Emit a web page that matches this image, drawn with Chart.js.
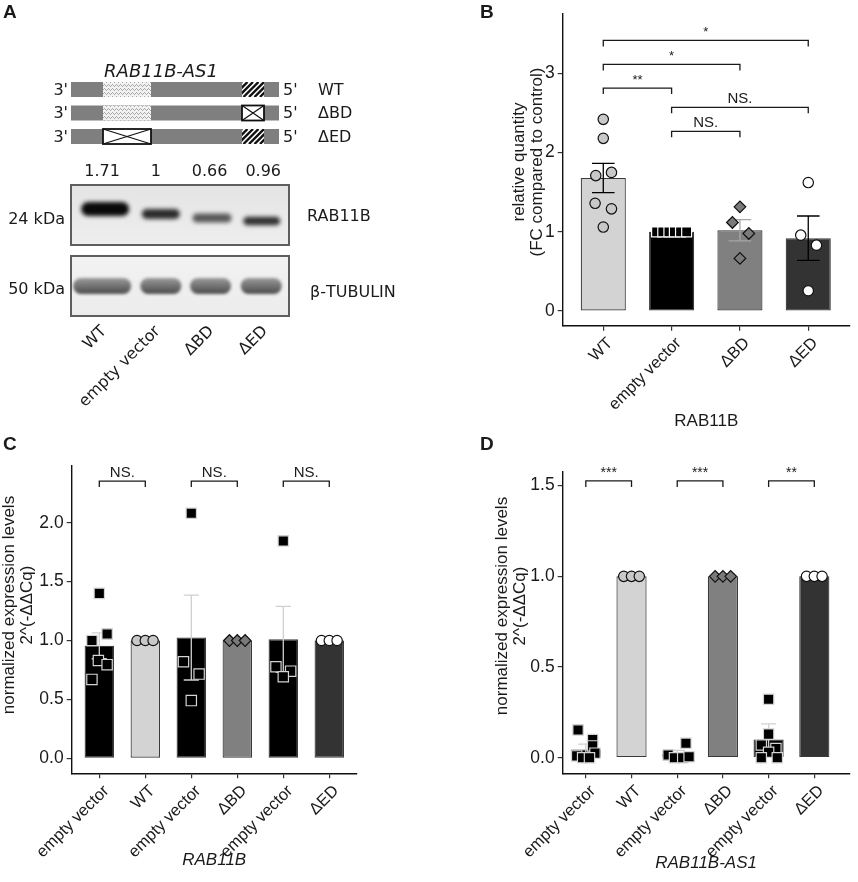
<!DOCTYPE html>
<html lang="en">
<head>
<meta charset="utf-8">
<title>RAB11B / RAB11B-AS1</title>
<script src="https://cdn.jsdelivr.net/npm/chart.js@4.4.1/dist/chart.umd.min.js"></script>
<style>
  html, body { margin: 0; padding: 0; background: #fff; }
  #figure { position: relative; width: 858px; height: 882px; overflow: hidden; }
  #figure canvas { position: absolute; }
</style>
</head>
<body>
<div id="figure">
  <canvas id="panelA" width="440" height="410" style="left:0;top:0"></canvas>
  <canvas id="panelB" width="418" height="440" style="left:440px;top:0"></canvas>
  <canvas id="panelC" width="430" height="472" style="left:0;top:410px"></canvas>
  <canvas id="panelD" width="428" height="450" style="left:430px;top:432px"></canvas>
</div>
<script>
// ===============================
// Data
// ===============================

// A: constructs and western blot
const lanesA = ['WT', 'empty vector', 'ΔBD', 'ΔED'];
const bandQuantA = [1.71, 1, 0.66, 0.96];
const constructsA = ['WT', 'ΔBD', 'ΔED'];
const deletedA = ['', 'BD', 'ED'];

// B: RAB11B protein, relative quantity
const categoriesB = ['WT', 'empty vector', 'ΔBD', 'ΔED'];
const meansB = [1.68, 1.0, 1.02, 0.92];
const semB = [0.185, 0, 0.135, 0.28];
const pointsB = [
  [2.42, 2.18, 1.71, 1.75, 1.36, 1.29, 1.06],
  [1, 1, 1, 1, 1, 1],
  [1.315, 1.118, 0.979, 0.664],
  [1.622, 0.958, 0.832, 0.256]
];
const jitterB = [
  [0, 0, -0.11, 0.12, -0.12, 0.12, 0],
  [-0.22, -0.13, -0.04, 0.04, 0.13, 0.22],
  [0, -0.11, 0.13, 0],
  [0, -0.11, 0.12, 0]
];
const yTicksB = [0, 1, 2, 3];
const bracketFromB = [0, 0, 0, 1, 1];
const bracketToB = [3, 2, 1, 3, 2];
const bracketYB = [3.416, 3.113, 2.815, 2.571, 2.269];
const bracketLabelB = ['*', '*', '**', 'NS.', 'NS.'];

// C: RAB11B mRNA
const categoriesC = ['empty vector', 'WT', 'empty vector', 'ΔBD', 'empty vector', 'ΔED'];
const meansC = [0.955, 1.0, 1.025, 1.0, 1.01, 1.0];
const semC = [0.11, 0, 0.36, 0, 0.28, 0];
const pointsC = [
  [1.40, 1.055, 1.00, 0.83, 0.795, 0.67],
  [1, 1, 1],
  [2.08, 0.82, 0.715, 0.49],
  [1, 1, 1],
  [1.845, 0.777, 0.74, 0.692],
  [1, 1, 1]
];
const jitterC = [
  [0, 0.17, -0.16, -0.02, 0.17, -0.16],
  [-0.18, 0, 0.17],
  [0, -0.17, 0.17, 0],
  [-0.17, 0, 0.17],
  [0, -0.16, 0.16, 0],
  [-0.17, 0, 0.17]
];
const yTicksC = [0, 0.5, 1, 1.5, 2];
const bracketFromC = [0, 2, 4];
const bracketToC = [1, 3, 5];
const bracketYC = [2.353, 2.353, 2.353];
const bracketLabelC = ['NS.', 'NS.', 'NS.'];

// D: RAB11B-AS1 RNA
const categoriesD = ['empty vector', 'WT', 'empty vector', 'ΔBD', 'empty vector', 'ΔED'];
const meansD = [0.045, 1.0, 0.02, 1.0, 0.10, 1.0];
const semD = [0.03, 0, 0.02, 0, 0.086, 0];
const pointsD = [
  [0.153, 0.10, 0.065, 0.025, 0.01, 0, 0],
  [1, 1, 1],
  [0.08, 0.015, 0, 0, 0.005],
  [1, 1, 1],
  [0.322, 0.13, 0.07, 0.05, 0.03, 0, 0],
  [1, 1, 1]
];
const jitterD = [
  [-0.17, 0.15, 0.15, 0.2, -0.2, -0.07, 0.08],
  [-0.17, 0, 0.17],
  [0.19, -0.2, -0.06, 0.12, 0.26],
  [-0.17, 0, 0.17],
  [0, 0, -0.16, 0.16, 0, -0.16, 0.19],
  [-0.17, 0, 0.17]
];
const yTicksD = [0, 0.5, 1, 1.5];
const bracketFromD = [0, 2, 4];
const bracketToD = [1, 3, 5];
const bracketYD = [1.526, 1.526, 1.526];
const bracketLabelD = ['***', '***', '**'];

// ===============================
// Styles
// ===============================
const SANS = "'Liberation Sans', Arial, sans-serif";
const DEJAVU = "'DejaVu Sans', Verdana, sans-serif";
const INK = '#1a1a1a';
Chart.defaults.font.family = SANS;
Chart.defaults.color = INK;

const AXIS_BORDER = { display: true, color: '#111', width: 1.4 };
const TICK_GRID = { display: true, drawOnChartArea: false, drawTicks: true, tickLength: 5, color: '#333', lineWidth: 1.2, offset: false };

const MARK = {
  wt:  { shape: 'circle',  r: 5.2, fill: '#c8c8c8', line: '#111' },
  bd:  { shape: 'rectRot', r: 5.8, fill: '#7a7a7a', line: '#111' },
  ed:  { shape: 'circle',  r: 5.2, fill: '#ffffff', line: '#111' },
  evB: { shape: 'rect',    r: 7,   fill: '#000000', line: '#ffffff' },
  ev:  { shape: 'rect',    r: 7.3, fill: '#000000', line: '#d4d4d4' }
};

// ===============================
// Panel A helpers (schematic + blot)
// ===============================
function dotPattern(ctx) {
  const c = document.createElement('canvas');
  c.width = c.height = 4;
  const g = c.getContext('2d');
  g.fillStyle = '#f2f2f2';
  g.fillRect(0, 0, 4, 4);
  g.fillStyle = '#a9a9a9';
  g.fillRect(0, 0, 1, 1); g.fillRect(1, 1, 1, 1);
  g.fillRect(2, 2, 1, 1); g.fillRect(3, 1, 1, 1);
  return ctx.createPattern(c, 'repeat');
}

function drawDomain(ctx, x, y, w, h, kind) {
  ctx.save();
  if (kind === 'dots') {
    ctx.fillStyle = dotPattern(ctx);
    ctx.fillRect(x, y, w, h);
  } else if (kind === 'hatch') {
    ctx.beginPath(); ctx.rect(x, y, w, h); ctx.clip();
    ctx.fillStyle = '#fff';
    ctx.fillRect(x, y, w, h);
    ctx.strokeStyle = '#111';
    ctx.lineWidth = 2.4;
    ctx.beginPath();
    for (let s = -h; s < w + h; s += 5.5) {
      ctx.moveTo(x + s, y + h);
      ctx.lineTo(x + s + h, y);
    }
    ctx.stroke();
  } else {
    ctx.fillStyle = '#fff';
    ctx.fillRect(x, y, w, h);
    ctx.strokeStyle = '#111';
    ctx.lineWidth = 1.2;
    ctx.beginPath();
    ctx.moveTo(x, y); ctx.lineTo(x + w, y + h);
    ctx.moveTo(x + w, y); ctx.lineTo(x, y + h);
    ctx.stroke();
    ctx.lineWidth = 1.8;
    ctx.strokeRect(x, y, w, h);
  }
  ctx.restore();
}

function drawBand(ctx, cx, cy, w, h, fill, blur) {
  ctx.save();
  ctx.filter = `blur(${blur}px)`;
  ctx.fillStyle = fill;
  ctx.beginPath();
  if (ctx.roundRect) ctx.roundRect(cx - w / 2, cy - h / 2, w, h, h / 2);
  else ctx.ellipse(cx, cy, w / 2, h / 2, 0, 0, 2 * Math.PI);
  ctx.fill();
  ctx.restore();
}

const blotPlugin = {
  id: 'blotA',
  afterDraw(chart) {
    const { ctx, chartArea: area, scales: { x } } = chart;
    const laneX = lanesA.map((_, i) => x.getPixelForValue(i));
    ctx.save();

    ctx.fillStyle = INK;
    ctx.font = `bold 19px ${SANS}`;
    ctx.textAlign = 'left';
    ctx.textBaseline = 'alphabetic';
    ctx.fillText('A', 3, 18);

    // transcript constructs
    ctx.font = `italic 18px ${DEJAVU}`;
    ctx.textAlign = 'center';
    ctx.fillText('RAB11B-AS1', 161, 77);
    const barL = area.left, barR = 279, rowH = 15;
    constructsA.forEach((name, r) => {
      const top = 82 + r * 23.5;
      const mid = top + rowH / 2;
      ctx.fillStyle = '#7f7f7f';
      ctx.fillRect(barL, top, barR - barL, rowH);
      drawDomain(ctx, 103, top, 48, rowH, deletedA[r] === 'ED' ? 'cross' : 'dots');
      drawDomain(ctx, 242, top, 22, rowH, deletedA[r] === 'BD' ? 'cross' : 'hatch');
      ctx.fillStyle = INK;
      ctx.font = `16px ${DEJAVU}`;
      ctx.textBaseline = 'middle';
      ctx.textAlign = 'right';
      ctx.fillText("3'", barL - 3, mid + 1);
      ctx.textAlign = 'left';
      ctx.fillText("5'", barR + 4, mid + 1);
      ctx.fillText(name, 318, mid + 1);
    });

    // densitometry values above the lanes
    ctx.textAlign = 'center';
    bandQuantA.forEach((q, i) => ctx.fillText(String(q), laneX[i], 172));

    // blots
    const w = area.right - area.left;
    const top1 = area.top, h1 = 60;
    const top2 = area.bottom - 60, h2 = 60;

    let g = ctx.createLinearGradient(0, top1, 0, top1 + h1);
    g.addColorStop(0, '#e4e4e4'); g.addColorStop(1, '#eeeeee');
    ctx.fillStyle = g;
    ctx.fillRect(area.left, top1, w, h1);
    ctx.save();
    ctx.beginPath(); ctx.rect(area.left, top1, w, h1); ctx.clip();
    const rabShift = [3, 5, 2.5, -1.5], rabDrop = [24, 29, 33, 36];
    const rabW = [48, 38, 39, 37], rabH = [14, 10, 9, 8.5];
    bandQuantA.forEach((q, i) => {
      const a = Math.min(1, 0.25 + 0.6 * q);
      drawBand(ctx, laneX[i] + rabShift[i], top1 + rabDrop[i], rabW[i], rabH[i], `rgba(10,10,10,${a})`, 2);
    });
    ctx.restore();

    g = ctx.createLinearGradient(0, top2, 0, top2 + h2);
    g.addColorStop(0, '#f2f2f2'); g.addColorStop(1, '#ececec');
    ctx.fillStyle = g;
    ctx.fillRect(area.left, top2, w, h2);
    ctx.save();
    ctx.beginPath(); ctx.rect(area.left, top2, w, h2); ctx.clip();
    const tubShift = [0, 5, 1, -2], tubW = [58, 41, 41, 41];
    laneX.forEach((lx, i) => {
      const cy = top2 + 30;
      const tg = ctx.createLinearGradient(0, cy - 8, 0, cy + 8);
      tg.addColorStop(0, '#9a9a9a'); tg.addColorStop(0.6, '#6a6a6a'); tg.addColorStop(1, '#4a4a4a');
      drawBand(ctx, lx + tubShift[i], cy, tubW[i], 16, tg, 1.6);
    });
    ctx.restore();

    ctx.strokeStyle = '#5e5e5e';
    ctx.lineWidth = 2;
    ctx.strokeRect(area.left, top1, w, h1);
    ctx.strokeRect(area.left, top2, w, h2);

    ctx.fillStyle = INK;
    ctx.font = `16px ${DEJAVU}`;
    ctx.textAlign = 'right';
    ctx.fillText('24 kDa', 65, 220);
    ctx.fillText('50 kDa', 65, 290);
    ctx.textAlign = 'left';
    ctx.fillText('RAB11B', 307, 217);
    ctx.fillText('β-TUBULIN', 310, 293);
    ctx.restore();
  }
};

new Chart(document.getElementById('panelA'), {
  type: 'bar',
  data: { datasets: [] },
  options: {
    responsive: false,
    animation: false,
    events: [],
    layout: { padding: { left: 71, right: 151, top: 185, bottom: 0 } },
    plugins: { legend: { display: false }, tooltip: { enabled: false } },
    scales: {
      x: {
        type: 'linear', min: -0.58, max: 3.48, offset: false,
        afterBuildTicks: s => { s.ticks = lanesA.map((_, i) => ({ value: i })); },
        afterFit: s => { s.height = 94; },
        border: { display: false },
        grid: { display: false, drawTicks: false, offset: false },
        ticks: {
          autoSkip: false, minRotation: 45, maxRotation: 45, padding: 6, labelOffset: 2, color: INK,
          font: { family: DEJAVU, size: 16 },
          callback: v => lanesA[Math.round(v)]
        }
      },
      y: { display: false, min: 0, max: 1 }
    }
  },
  plugins: [blotPlugin]
});

// ===============================
// Bar + points panels (B, C, D)
// ===============================
function barPanel(id, cfg) {
  const datasets = [{
    type: 'bar',
    data: cfg.means.map((m, i) => ({ x: i, y: m })),
    backgroundColor: cfg.barColors,
    borderColor: '#3a3a3a',
    borderWidth: 1.2,
    borderSkipped: false,
    categoryPercentage: 1,
    barPercentage: cfg.barPct,
    order: 2
  }];
  cfg.points.forEach((vals, i) => {
    const m = cfg.markers[i];
    datasets.push({
      type: 'scatter',
      data: vals.map((v, k) => ({ x: i + cfg.jitter[i][k], y: v })),
      pointStyle: m.shape,
      pointRadius: m.r,
      backgroundColor: m.fill,
      borderColor: m.line,
      borderWidth: 1.2,
      order: 1
    });
  });

  const annot = {
    id: 'annot',
    // error bars sit on top of the bars, below the points
    afterDatasetDraw(chart, args) {
      if (args.meta.type !== 'bar') return;
      const { ctx, scales: { x, y } } = chart;
      ctx.save();
      ctx.lineWidth = 1.3;
      cfg.means.forEach((m, i) => {
        const e = cfg.sem[i];
        if (!e) return;
        const cx = x.getPixelForValue(i);
        const hw = x.getPixelForValue(i + 0.165) - cx;
        const y0 = y.getPixelForValue(m - e), y1 = y.getPixelForValue(m + e);
        ctx.strokeStyle = cfg.errColors[i];
        ctx.beginPath();
        ctx.moveTo(cx, y0); ctx.lineTo(cx, y1);
        ctx.moveTo(cx - hw, y0); ctx.lineTo(cx + hw, y0);
        ctx.moveTo(cx - hw, y1); ctx.lineTo(cx + hw, y1);
        ctx.stroke();
      });
      ctx.restore();
    },
    afterDraw(chart) {
      const { ctx, chartArea: area, scales: { x, y } } = chart;
      ctx.save();
      ctx.fillStyle = INK;
      ctx.font = `bold 19px ${SANS}`;
      ctx.textAlign = 'left';
      ctx.textBaseline = 'alphabetic';
      ctx.fillText(cfg.letter, cfg.letterPos[0], cfg.letterPos[1]);

      ctx.font = `17px ${SANS}`;
      ctx.textAlign = 'center';
      ctx.textBaseline = 'middle';
      cfg.yTitle.forEach((line, k) => {
        ctx.save();
        ctx.translate(cfg.yTitlePos[0] + k * 18, cfg.yTitlePos[1]);
        ctx.rotate(-Math.PI / 2);
        ctx.fillText(line, 0, 0);
        ctx.restore();
      });
      ctx.font = `${cfg.xTitleItalic ? 'italic ' : ''}17px ${SANS}`;
      ctx.fillText(cfg.xTitle, (area.left + area.right) / 2, cfg.xTitleY);

      // significance brackets
      ctx.strokeStyle = INK;
      ctx.lineWidth = 1.3;
      ctx.textBaseline = 'alphabetic';
      cfg.brFrom.forEach((f, k) => {
        const x0 = x.getPixelForValue(f), x1 = x.getPixelForValue(cfg.brTo[k]);
        const yy = y.getPixelForValue(cfg.brY[k]);
        ctx.beginPath();
        ctx.moveTo(x0, yy + 6); ctx.lineTo(x0, yy); ctx.lineTo(x1, yy); ctx.lineTo(x1, yy + 6);
        ctx.stroke();
        const lab = cfg.brLabel[k];
        ctx.font = `${lab.startsWith('*') ? cfg.starSize : cfg.nsSize}px ${SANS}`;
        ctx.fillText(lab, (x0 + x1) / 2, yy - 4);
      });
      ctx.restore();
    }
  };

  return new Chart(document.getElementById(id), {
    type: 'bar',
    data: { datasets },
    options: {
      responsive: false,
      animation: false,
      events: [],
      layout: { padding: { left: 0, top: cfg.box.top, right: cfg.box.right, bottom: 0 } },
      plugins: { legend: { display: false }, tooltip: { enabled: false } },
      scales: {
        x: {
          type: 'linear', min: cfg.xRange[0], max: cfg.xRange[1], offset: false,
          afterBuildTicks: s => { s.ticks = cfg.categories.map((_, i) => ({ value: i })); },
          afterFit: s => { s.height = cfg.box.xHeight; },
          border: AXIS_BORDER,
          grid: TICK_GRID,
          ticks: {
            autoSkip: false, minRotation: 45, maxRotation: 45, padding: 3, labelOffset: 7, color: INK,
            font: { size: 16.5 },
            callback: v => cfg.categories[Math.round(v)]
          }
        },
        y: {
          type: 'linear', min: cfg.yRange[0], max: cfg.yRange[1],
          afterBuildTicks: s => { s.ticks = cfg.yTicks.map(v => ({ value: v })); },
          afterFit: s => { s.width = cfg.box.yWidth; },
          border: AXIS_BORDER,
          grid: TICK_GRID,
          ticks: { padding: 3, color: INK, font: { size: 17.5 }, callback: cfg.yFormat }
        }
      }
    },
    plugins: [annot]
  });
}

const BAR6 = ['#000000', '#d3d3d3', '#000000', '#808080', '#000000', '#333333'];
const ERR6 = ['#d0d0d0', '#000', '#d0d0d0', '#000', '#d0d0d0', '#000'];
const MARK6 = [MARK.ev, MARK.wt, MARK.ev, MARK.bd, MARK.ev, MARK.ed];

barPanel('panelB', {
  categories: categoriesB, means: meansB, sem: semB, points: pointsB, jitter: jitterB,
  yTicks: yTicksB, yFormat: v => String(v),
  brFrom: bracketFromB, brTo: bracketToB, brY: bracketYB, brLabel: bracketLabelB,
  xRange: [-0.594, 3.608], yRange: [-0.185, 3.756],
  box: { top: 13, right: 3, yWidth: 122.7, xHeight: 114.3 },
  barPct: 0.66,
  barColors: ['#d3d3d3', '#000000', '#808080', '#333333'],
  errColors: ['#000', '#000', '#a6a6a6', '#000'],
  markers: [MARK.wt, MARK.evB, MARK.bd, MARK.ed],
  letter: 'B', letterPos: [40, 18],
  yTitle: ['relative quantity', '(FC compared to control)'], yTitlePos: [79, 162],
  xTitle: 'RAB11B', xTitleItalic: false, xTitleY: 421,
  starSize: 13, nsSize: 15
});

barPanel('panelC', {
  categories: categoriesC, means: meansC, sem: semC, points: pointsC, jitter: jitterC,
  yTicks: yTicksC, yFormat: v => v.toFixed(1),
  brFrom: bracketFromC, brTo: bracketToC, brY: bracketYC, brLabel: bracketLabelC,
  xRange: [-0.6, 5.596], yRange: [-0.127, 2.481],
  box: { top: 56, right: 73.3, yWidth: 71.7, xHeight: 108.7 },
  barPct: 0.64,
  barColors: BAR6, errColors: ERR6, markers: MARK6,
  letter: 'C', letterPos: [3, 40],
  yTitle: ['normalized expression levels', '2^(-ΔΔCq)'], yTitlePos: [9.5, 195],
  xTitle: 'RAB11B', xTitleItalic: true, xTitleY: 450,
  starSize: 14, nsSize: 15
});

barPanel('panelD', {
  categories: categoriesD, means: meansD, sem: semD, points: pointsD, jitter: jitterD,
  yTicks: yTicksD, yFormat: v => v.toFixed(1),
  brFrom: bracketFromD, brTo: bracketToD, brY: bracketYD, brLabel: bracketLabelD,
  xRange: [-0.506, 5.77], yRange: [-0.086, 1.577],
  box: { top: 39.7, right: 0, yWidth: 132.7, xHeight: 108.7 },
  barPct: 0.66,
  barColors: BAR6, errColors: ERR6, markers: MARK6,
  letter: 'D', letterPos: [50, 18],
  yTitle: ['normalized expression levels', '2^(-ΔΔCq)'], yTitlePos: [72, 174],
  xTitle: 'RAB11B-AS1', xTitleItalic: true, xTitleY: 431,
  starSize: 14, nsSize: 15
});
</script>
</body>
</html>
